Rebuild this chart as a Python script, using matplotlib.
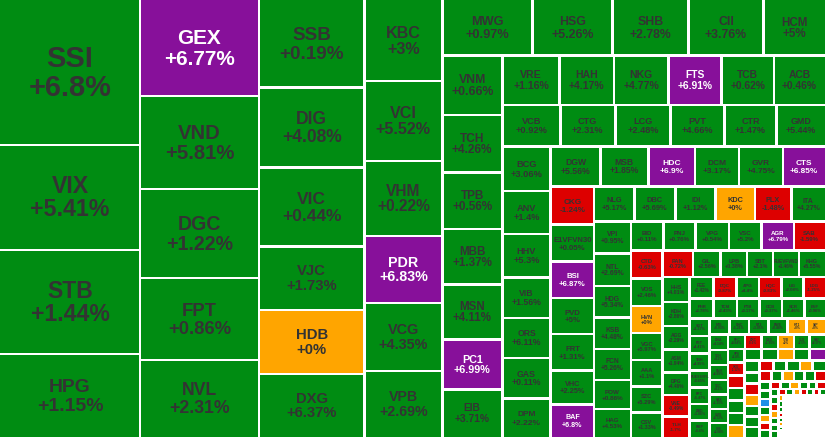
import numpy as np
import matplotlib.pyplot as plt
from matplotlib.patches import Rectangle

# trading value per stock (px^2 of tile area) and % change, in the order the map lays them out
tickers = [
    'SSI', 'VIX', 'STB', 'HPG',
    'GEX', 'VND', 'DGC', 'FPT', 'NVL',
    'SSB', 'DIG', 'VIC', 'VJC', 'HDB', 'DXG',
    'KBC', 'VCI', 'VHM', 'PDR', 'VCG', 'VPB',
    'MWG', 'HSG', 'SHB', 'CII', 'HCM',
    'VNM', 'TCH', 'TPB', 'MBB', 'MSN', 'PC1', 'EIB',
    'VRE', 'HAH', 'NKG', 'FTS', 'TCB', 'ACB',
    'VCB', 'CTG', 'LCG', 'PVT', 'CTR', 'GMD',
    'BCG', 'ANV', 'HHV', 'VIB', 'ORS', 'GAS', 'DPM',
    'DGW', 'MSB', 'HDC', 'DCM', 'GVR', 'CTS',
    'CKG', 'E1VFVN30', 'BSI', 'PVD', 'FRT', 'VHC', 'BAF',
    'NLG', 'DBC', 'IDI', 'KDC', 'PLX', 'ITA',
    'VPI', 'NTL', 'HDG', 'KSB', 'FCN', 'POW', 'HAG',
    'BID', 'PNJ', 'VPG', 'VSC', 'AGR', 'SAB',
    'CTD', 'VOS', 'HVN', 'VGC', 'AAA', 'SZC', 'CSV',
    'PAN', 'GIL', 'LPB', 'SBT', 'FUEVFVND', 'KHG',
    'HHS', 'KDH', 'AGG', 'ASM', 'DPG', 'VNE', 'TLH',
    'REE', 'DQC', 'APG', 'HQC', 'LIG', 'LDG',
    'PHR', 'TCM', 'PTB', 'OCB', 'SCR', 'EVF',
]
sizes = [
    20300, 14700, 14560, 11620,
    11424, 11067, 10591, 9758, 9163,
    9240, 8400, 8295, 6720, 6720, 6650,
    6318, 6240, 5850, 5226, 5304, 5148,
    4980, 4440, 4218, 4157, 3402,
    3570, 3450, 3390, 3330, 3300, 3000, 2850,
    2846, 2683, 2713, 2614, 2599, 2534,
    2419, 2294, 2314, 2260, 2152, 2031,
    2158, 2086, 2100, 1964, 1940, 1974, 1858,
    1960, 1913, 1837, 1754, 1734, 1671,
    1663, 1602, 1572, 1567, 1572, 1464, 1416,
    1412, 1433, 1405, 1371, 1267, 1180,
    1193, 1185, 1167, 1156, 1138, 1064, 1024,
    951, 928, 977, 948, 931, 905,
    888, 881, 862, 856, 834, 824, 783,
    820, 730, 715, 700, 695, 695,
    675, 648, 635, 629, 608, 594, 551,
    509, 496, 482, 484, 471, 464,
    477, 463, 442, 455, 442, 410,
]
changes = [
    6.8, 5.41, 1.44, 1.15,
    6.77, 5.81, 1.22, 0.86, 2.31,
    0.19, 4.08, 0.44, 1.73, 0, 6.37,
    3, 5.52, 0.22, 6.83, 4.35, 2.69,
    0.97, 5.26, 2.78, 3.76, 5,
    0.66, 4.26, 0.56, 1.37, 4.11, 6.99, 3.71,
    1.16, 4.17, 4.77, 6.91, 0.62, 0.46,
    0.92, 2.31, 2.48, 4.66, 1.47, 5.44,
    3.06, 1.4, 5.3, 1.56, 6.11, 0.11, 2.22,
    5.56, 1.85, 6.9, 3.17, 4.75, 6.85,
    -1.24, 0.05, 6.87, 5, 1.31, 2.25, 6.8,
    5.17, 5.69, 1.12, 0, -1.48, 4.27,
    0.95, 2.69, 5.34, 4.48, 5.26, 0.86, 4.53,
    0.11, 0.76, 0.54, 5.2, 6.79, -1.59,
    -0.63, 2.46, 0, 5.97, 1.1, 5.29, 1.33,
    -0.72, 2.56, 0.38, 2.1, 1.46, 5.55,
    4.01, 2.86, 2.29, 1.94, 4.46, -0.49, -1.7,
    1.42, -0.87, 4.4, -0.83, 2.08, -1.25,
    2.78, 2.43, 0.17, 0.37, 1.46, 0.96,
]

# the long tail of small stocks (bottom-right corner)
tail_tickers = [
    'SGT', 'PET', 'TNH', 'FUESSVFL', 'BFC', 'DBD', 'BMP',
    'MIG', 'DHC', 'NT2', 'BWE', 'HT1', 'SIP',
    'DHA', 'TDH', 'BVH', 'TDC', 'HAX', 'CMG', 'SJS',
    'PHC', 'DRC', 'GEG', 'TVB', 'TLG', 'NAF',
    'VPS', 'SKG', 'TNI', 'SMC', 'CRE', 'HPX',
    'DXS', 'VTO', 'CCL', 'TIP', 'PTL', 'HID',
    'DLG', 'QCG', 'ST8', 'FIT', 'HBC', 'TDG',
    'VIP', 'ELC', 'NHA', 'SHA', 'TCD', 'HTN',
    'PGC', 'TNT', 'DAH', 'FIR', 'CIG', 'LHG',
    'VDS', 'SCS', 'DHG', 'BMI', 'IJC', 'TVS',
    'YEG', 'ADS', 'HNG', 'PSH', 'APH', 'LSS',
    'AMD', 'JVC', 'KMR', 'TTF', 'SAM', 'DTT',
    'HVH', 'CRC', 'VNL', 'SVD', 'PIT', 'TMT',
    'ASP', 'CLW', 'DAT', 'HU1', 'PGI', 'TTE', 'AAT', 'ABS', 'BCE',
]
tail_sizes = [
    345, 340, 336, 332, 328, 324, 320,
    316, 312, 308, 304, 300, 296,
    290, 285, 280, 275, 270, 265, 260,
    250, 245, 240, 235, 230, 225,
    220, 216, 212, 208, 204, 200,
    196, 192, 188, 184, 180, 176,
    172, 168, 164, 160, 156, 152,
    148, 144, 140, 136, 132, 128,
    124, 120, 116, 112, 108, 104,
    100, 96, 92, 88, 85, 82,
    79, 76, 73, 70, 67, 64,
    62, 60, 58, 56, 54, 52,
    50, 48, 46, 44, 42, 40,
    38, 36, 34, 32, 30, 28,
    26, 24, 22, 20, 18, 16, 14, 12, 10,
]
tail_changes = [
    1.37, 4.41, 4.95, 0.65, 5.47, 1.86, 0.6,
    0.93, 1.21, 3.05, 0.48, 0, 0,
    4.14, 4.2, 6.89, 4.1, 1.15, 0.72, 2.04,
    0.84, -0.6, 1.95, 0, 2.5, 0.37,
    3.4, -1.12, -0.45, 1.6, 0.9, 2.2,
    0, 1.3, 0.8, 0, 2.9, 6.95,
    0.5, 1.8, -0.9, 0, 3.2, 1.1,
    0.7, -2.1, 1.4, 0.2, 0, 2.6,
    -0.8, 1.9, 0, 0.4, 3.5, -0.3,
    1.2, 0.6, -6.9, 2.3, 0, -1.5,
    0.9, -0.7, 1.6, 0, 2.8, 0.3,
    -1.1, 0.5, 1.7, -0.4, 0, 3.9,
    0.6, 2.4, -0.2, 1.3, 0, -0.9,
    1.8, -1.3, 0.4, 0, 2.1, 0.8,
    -0.5, 1.1, 0, 2.6, -0.8, 0.3, 1.4, 0, -1.2,
]
others_size = 1717  # hundreds of micro caps, too small to show

ceiling = {'GEX', 'PDR', 'FTS', 'PC1', 'HDC', 'CTS', 'BSI', 'BAF', 'AGR', 'HID'}
floor = {'DHG'}

W, H = 825, 437
K = 0.815      # the map favours tiles slightly wider than tall
PAD = 1.3

colors = {'up': '#008c12', 'ceil': '#87109a', 'ref': '#ffa500',
          'down': '#dd0000', 'floor': '#1e90e6', 'other': '#f1f1f1'}


def status(tk, c):
    if tk in ceiling:
        return 'ceil'
    if tk in floor:
        return 'floor'
    if c > 0:
        return 'up'
    if c < 0:
        return 'down'
    return 'ref'


def squarify(vals, x0, y0, x1, y1):
    rects = []
    total = float(sum(vals))
    i, n = 0, len(vals)
    while i < n:
        dx, dy = x1 - x0, y1 - y0
        scale = dx * dy / total
        col = dx >= dy
        side = dy if col else dx

        def worst(row):
            thick = sum(row) * scale / side
            r = 0
            for v in row:
                ln = v * scale / thick
                a = K * (thick / ln if col else ln / thick)
                r = max(r, a, 1 / a)
            return r

        j = i + 1
        best = worst(vals[i:j])
        while j < n:
            nw = worst(vals[i:j + 1])
            if nw > best:
                break
            best = nw
            j += 1
        s = sum(vals[i:j])
        thick = s * scale / side
        pos = y0 if col else x0
        for v in vals[i:j]:
            ln = v * scale / thick
            if col:
                rects.append((x0, pos, x0 + thick, pos + ln))
            else:
                rects.append((pos, y0, pos + ln, y0 + thick))
            pos += ln
        if col:
            x0 += thick
        else:
            y0 += thick
        total -= s
        i = j
    return rects


all_tk = tickers + tail_tickers + ['others']
all_sz = sizes + tail_sizes + [others_size]
all_ch = changes + tail_changes + [None]
rects = squarify(all_sz, 0, 0, W, H)

fig = plt.figure(figsize=(8.25, 4.37), dpi=100)
ax = fig.add_axes([0, 0, 1, 1])
ax.set_xlim(0, W)
ax.set_ylim(H, 0)
ax.axis('off')

for tk, c, (x0, y0, x1, y1) in zip(all_tk, all_ch, rects):
    w, h = x1 - x0, y1 - y0
    a0 = x0 + (PAD if x0 > 0.5 else 0)
    b0 = y0 + (PAD if y0 > 0.5 else 0)
    a1 = x1 - (PAD if x1 < W - 0.5 else 0)
    b1 = y1 - (PAD if y1 < H - 0.5 else 0)
    if a1 - a0 <= 0.2 or b1 - b0 <= 0.2:
        continue
    st = 'other' if c is None else status(tk, c)
    ax.add_patch(Rectangle((a0, b0), a1 - a0, b1 - b0, facecolor=colors[st],
                           linewidth=0))
    if c is None:
        continue
    label = f"{c:+g}%"
    n = max(len(tk), len(label))
    f = min(0.205 * np.sqrt(min(w, h) * np.sqrt(w * h)), 0.86 * w / (0.6 * n), h / 2.6)
    if f < 2.8:
        continue
    tcol = 'white' if st in ('ceil', 'floor') else '#333333'
    cx, cy = (x0 + x1) / 2, (y0 + y1) / 2
    for txt, base in ((tk, cy - 0.18 * f), (label, cy + 0.82 * f)):
        ax.text(cx, base, txt, ha='center', va='baseline', color=tcol,
                fontsize=f * 0.72, fontweight='bold', family='Liberation Sans')

fig.savefig('out.png', dpi=100)
